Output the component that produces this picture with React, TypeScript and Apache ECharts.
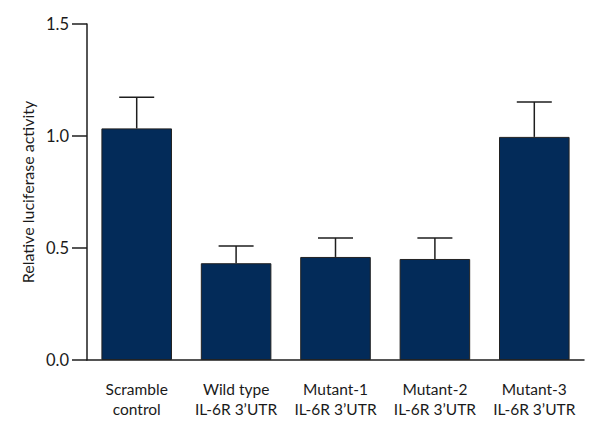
import React, { useEffect, useRef } from "react";
import * as echarts from "echarts";

const categories = ["Scramble\ncontrol", "Wild type\nIL-6R 3\u2019UTR", "Mutant-1\nIL-6R 3\u2019UTR", "Mutant-2\nIL-6R 3\u2019UTR", "Mutant-3\nIL-6R 3\u2019UTR"];
const means = [1.034, 0.432, 0.46, 0.451, 0.996];
const errors = [0.139, 0.077, 0.085, 0.094, 0.156];
const yTicks = [0, 0.5, 1.0, 1.5];

const FONT = "Lato, 'Noto Sans', sans-serif";
const INK = "#1e1e1e";

export default function App() {
  const ref = useRef<HTMLDivElement>(null);
  useEffect(() => {
    if (!ref.current) return;
    const chart = echarts.init(ref.current, null, { renderer: "svg" });
    chart.setOption({
      animation: false,
      backgroundColor: "#ffffff",
      grid: { left: 87, right: 16, top: 24, bottom: 80 },
      xAxis: {
        type: "category",
        data: categories,
        axisLine: { lineStyle: { color: INK, width: 1.5 } },
        axisTick: { alignWithLabel: true, length: 14, lineStyle: { color: INK, width: 1.5 } },
        axisLabel: { interval: 0, color: "#1a1a1a", fontFamily: FONT, fontSize: 15.5, lineHeight: 20, margin: 19 },
      },
      yAxis: {
        type: "value",
        min: 0,
        max: yTicks[yTicks.length - 1],
        interval: 0.5,
        name: "Relative luciferase activity",
        nameLocation: "middle",
        nameGap: 50,
        nameRotate: 90,
        nameTextStyle: { color: "#1a1a1a", fontFamily: FONT, fontSize: 16 },
        axisLine: { show: true, lineStyle: { color: INK, width: 1.5 } },
        axisTick: { show: true, length: 15, lineStyle: { color: INK, width: 1.5 } },
        axisLabel: { color: "#1a1a1a", fontFamily: FONT, fontSize: 16.5, margin: 18, formatter: (v: number) => v.toFixed(1) },
        splitLine: { show: false },
      },
      series: [
        {
          type: "bar",
          data: means,
          barWidth: "71%",
          itemStyle: { color: "#032b59", borderColor: "#222", borderWidth: 1 },
          z: 2,
        },
        {
          type: "custom",
          data: means.map((m, i) => [i, m, errors[i]]),
          z: 3,
          renderItem: (params: any, api: any) => {
            const i = api.value(0);
            const m = api.value(1);
            const e = api.value(2);
            const base = api.coord([i, m]);
            const top = api.coord([i, m + e]);
            const half = 17.5;
            const style = { stroke: INK, lineWidth: 1.5 };
            return {
              type: "group",
              children: [
                { type: "line", shape: { x1: base[0], y1: base[1], x2: top[0], y2: top[1] }, style },
                { type: "line", shape: { x1: top[0] - half, y1: top[1], x2: top[0] + half, y2: top[1] }, style },
              ],
            };
          },
        },
      ],
    });
    return () => chart.dispose();
  }, []);
  return <div ref={ref} style={{ width: 600, height: 440, margin: -8 }} />;
}
